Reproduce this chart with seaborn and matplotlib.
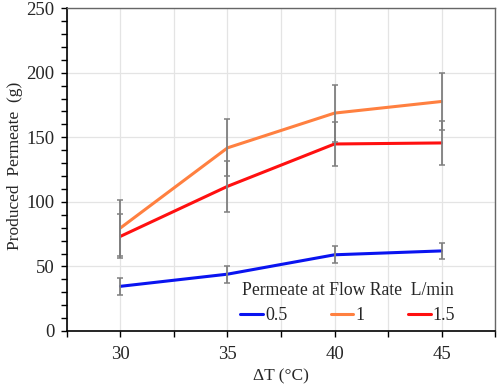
import seaborn as sns
import matplotlib.pyplot as plt
import matplotlib.ticker as mticker
import pandas as pd

## Values
delta_t = [30, 35, 40, 45]
flow_rates = ["0.5", "1", "1.5"]
permeate_05 = [34.6, 44.0, 59.0, 62.0]
permeate_1 = [79.8, 141.8, 168.7, 177.7]
permeate_15 = [73.3, 112.0, 144.8, 145.6]
err_05 = [6.5, 6.5, 6.6, 6.4]
err_1 = [22, 22, 22, 22]
err_15 = [17, 20, 17, 17]

colors = {"0.5": "#0a14f0", "1": "#ff8040", "1.5": "#ff1010"}

df = pd.DataFrame({
    "dT": delta_t * 3,
    "permeate": permeate_05 + permeate_1 + permeate_15,
    "err": err_05 + err_1 + err_15,
    "flow": [f for f in flow_rates for _ in delta_t],
})

sns.set_style("white")
plt.rcParams["font.family"] = ["Liberation Serif", "DejaVu Serif"]

fig = plt.figure(figsize=(4.98, 3.86), dpi=100)
ax = fig.add_axes([0.1345, 0.1425, 0.8595, 0.8365])

# grid
ax.grid(True, which="major", color="#e4e4e4", linewidth=0.9)
ax.set_axisbelow(True)

sns.lineplot(data=df, x="dT", y="permeate", hue="flow", palette=colors,
             linewidth=2.2, ax=ax, zorder=3)

# error bars
for f in flow_rates:
    sub = df[df["flow"] == f]
    ax.errorbar(sub["dT"], sub["permeate"], yerr=sub["err"], fmt="none",
                ecolor="#7f7f7f", elinewidth=1.3, capsize=2.4, capthick=1.1,
                zorder=4)

ax.set_xlim(27.5, 47.5)
ax.set_ylim(0, 250)
ax.xaxis.set_major_locator(mticker.MultipleLocator(2.5))
ax.xaxis.set_major_formatter(mticker.FuncFormatter(
    lambda v, p: f"{int(v)}" if v in delta_t else ""))
ax.yaxis.set_major_locator(mticker.MultipleLocator(50))
ax.yaxis.set_minor_locator(mticker.MultipleLocator(10))
ax.tick_params(axis="both", which="both", direction="out", length=4,
               width=1.0, color="black", labelsize=13.5)
ax.tick_params(axis="x", which="major", bottom=True, pad=7)
ax.tick_params(axis="y", which="both", left=True, pad=5)

for s in ["left", "bottom"]:
    ax.spines[s].set_color("black")
    ax.spines[s].set_linewidth(1.2)
for s in ["top", "right"]:
    ax.spines[s].set_color("#666666")
    ax.spines[s].set_linewidth(1.0)

ax.set_xlabel("ΔT (°C)", fontsize=12.5, labelpad=4)
ax.set_ylabel("Produced  Permeate  (g)", fontsize=12.5)
ax.yaxis.set_label_coords(-0.103, 0.512)

leg = ax.legend(title="Permeate at Flow Rate  L/min", ncol=3, frameon=False,
                loc="lower right", bbox_to_anchor=(0.945, -0.03),
                fontsize=13, title_fontsize=12.7, handlelength=1.25,
                columnspacing=2.4, handletextpad=0.12, labelspacing=0.2)
leg._legend_box.sep = 6

fig.savefig("out.png", dpi=100)
